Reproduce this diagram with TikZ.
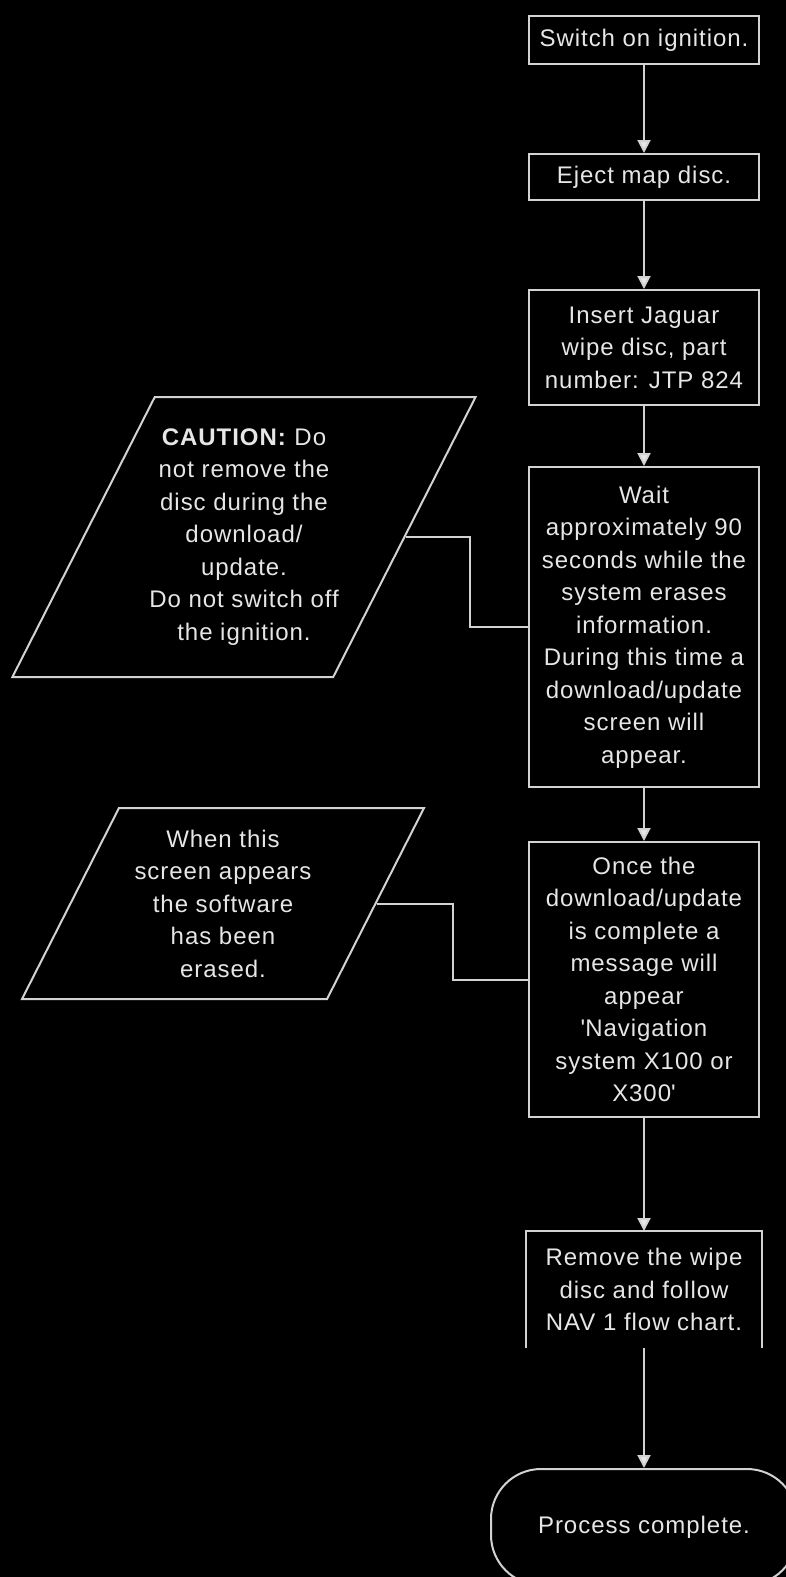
\documentclass[tikz,border=0pt]{standalone}
\usepackage{fontspec}
\setmainfont{Liberation Sans}[LetterSpace=4.0]
\usepackage{tikz}
\usetikzlibrary{positioning,arrows.meta,shapes.geometric}
\definecolor{canvas}{HTML}{000000}
\definecolor{ink}{HTML}{E6E6E6}
\definecolor{rule}{HTML}{D2D2D2}

\begin{document}
\begin{tikzpicture}[x=1pt, y=-1pt,
  stepbox/.style={draw=rule, line width=2pt, fill=canvas, text=ink, minimum width=230pt, align=center, inner sep=0pt, font=\fontsize{24}{32.5}\selectfont},
  notebox/.style={stepbox, trapezium, trapezium left angle=56.7, trapezium right angle=123.3, trapezium stretches body},
  endbox/.style={stepbox, rounded corners=50pt, minimum width=306pt, minimum height=116pt},
  arrow/.style={-{Triangle[width=13pt, length=13pt, fill=ink]}, line width=2pt, color=rule},
  link/.style={line width=2pt, color=rule},
]
\fill[canvas] (0,0) rectangle (786,1577);
\useasboundingbox (0,0) rectangle (786,1577);
% main column
\node[stepbox, minimum height=48pt] (ignition) at (644,40) {Switch on ignition.};
\node[stepbox, minimum height=46pt] (eject) at (644,177) {Eject map disc.};
\node[stepbox, minimum height=115pt] (insert) at (644,347.5) {Insert Jaguar\\wipe disc, part\\number: JTP 824};
\node[stepbox, minimum height=320pt] (wait) at (644,627) {Wait\\approximately 90\\seconds while the\\system erases\\information.\\During this time a\\download/update\\screen will\\appear.};
\node[stepbox, minimum height=275pt] (once) at (644,979.5) {Once the\\download/update\\is complete a\\message will\\appear\\\textquotesingle Navigation\\system X100 or\\X300\textquotesingle};
\node[stepbox, draw=none, minimum width=234pt, minimum height=115pt] (remove) at (644,1289.5) {Remove the wipe\\disc and follow\\NAV 1 flow chart.};
\node[endbox] (done) at (644,1527) {Process complete.};
% side notes
\node[notebox, inner xsep=-5.5pt, minimum width=449pt, minimum height=280pt] (caution) at (244,537) {\textbf{CAUTION:} Do\\not remove the\\disc during the\\download/\\update.\\Do not switch off\\the ignition.};
\node[notebox, minimum width=402pt, minimum height=191pt] (erased) at (223,903.5) {When this\\screen appears\\the software\\has been\\erased.};
% open box
\draw[link] (remove.south west) |- (remove.north east) -- (remove.south east);
% connectors
\draw[arrow] (ignition) -- (eject);
\draw[arrow] (eject) -- (insert);
\draw[arrow] (insert) -- (wait);
\draw[arrow] (wait) -- (once);
\draw[arrow] (once) -- (remove);
\draw[arrow] (remove) -- (done);
\draw[link] (caution.east) -- ++(64,0) |- (wait.west);
\draw[link] (erased.east) -- ++(76,0) |- (once.west);
\end{tikzpicture}
\end{document}
